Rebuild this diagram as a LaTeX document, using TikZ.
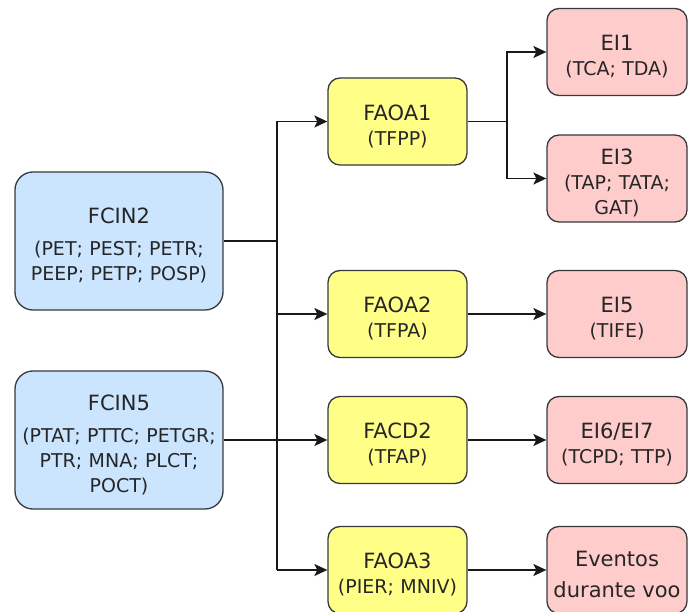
\documentclass[tikz,border=0pt]{standalone}
\usepackage{fontspec}
\setmainfont{DejaVu Sans}
\usepackage{tikz}
\usetikzlibrary{arrows.meta,positioning,calc}
\definecolor{fcinblue}{RGB}{204,229,255}
\definecolor{faoayellow}{RGB}{255,255,136}
\definecolor{eipink}{RGB}{255,204,204}
\definecolor{edgegray}{RGB}{54,57,61}
\newcommand{\titlesize}{\fontsize{21}{25}\selectfont\rule{0pt}{25pt}}
\newcommand{\boxtitle}[1]{{\titlesize #1}\\}
\newcommand{\bigtitle}[1]{{\titlesize #1}\\[7pt]}
\tikzset{
  basebox/.style={
    draw=edgegray,
    line width=1.3pt,
    align=center,
    inner sep=0pt,
    text=black!85,
    font=\fontsize{19}{25}\selectfont
  },
  fcin/.style={
    basebox,
    fill=fcinblue,
    rounded corners=18pt,
    text width=208pt,
    minimum height=138pt
  },
  faoa/.style={
    basebox,
    fill=faoayellow,
    rounded corners=12pt,
    text width=139pt,
    minimum height=87pt
  },
  ei/.style={
    basebox,
    fill=eipink,
    rounded corners=12pt,
    text width=140pt,
    minimum height=87pt
  },
  link/.style={line width=1.5pt,black!90},
  arr/.style={-{Stealth[length=13pt,width=12pt,inset=3pt]},line width=1.5pt,black!90}
}

\begin{document}
\begin{tikzpicture}[x=1pt,y=-1pt]
  \useasboundingbox (0,0) rectangle (689,612);
  % fatores contribuintes
  \node[fcin] (fcin2) at (119,241) {\bigtitle{FCIN2}(PET; PEST; PETR;\\PEEP; PETP; POSP)};
  \node[fcin] (fcin5) at (119,440) {\bigtitle{FCIN5}(PTAT; PTTC; PETGR;\\PTR; MNA; PLCT;\\POCT)};
  % fatores
  \node[faoa] (faoa1) at (397.5,121.5) {\boxtitle{FAOA1}(TFPP)};
  \node[faoa] (faoa2) at (397.5,314) {\boxtitle{FAOA2}(TFPA)};
  \node[faoa] (facd2) at (397.5,440) {\boxtitle{FACD2}(TFAP)};
  \node[faoa] (faoa3) at (397.5,570) {\boxtitle{FAOA3}(PIER; MNIV)};
  % eventos
  \node[ei] (ei1) at (617,52) {\boxtitle{EI1}(TCA; TDA)};
  \node[ei] (ei3) at (617,178.5) {\boxtitle{EI3}(TAP; TATA;\\GAT)};
  \node[ei] (ei5) at (617,314) {\boxtitle{EI5}(TIFE)};
  \node[ei] (ei67) at (617,440) {\boxtitle{EI6/EI7}(TCPD; TTP)};
  \node[ei] (eventos) at (617,570) {{\titlesize Eventos\\[6pt]durante voo}};

  \coordinate (bustop) at (277,121.5);
  \coordinate (busbot) at (277,570);
  \coordinate (fork) at (507,121.5);

  \draw[link] (bustop) -- (busbot);
  \draw[link] (fcin2.east) -- (fcin2.east -| bustop);
  \draw[link] (fcin5.east) -- (fcin5.east -| bustop);
  \draw[arr] (bustop) -- (faoa1.west);
  \draw[arr] (faoa2.west -| bustop) -- (faoa2.west);
  \draw[arr] (facd2.west -| bustop) -- (facd2.west);
  \draw[arr] (busbot) -- (faoa3.west);

  \draw[link] (faoa1.east) -- (fork);
  \draw[arr] (fork) |- (ei1.west);
  \draw[arr] (fork) |- (ei3.west);
  \draw[arr] (faoa2) -- (ei5);
  \draw[arr] (facd2) -- (ei67);
  \draw[arr] (faoa3) -- (eventos);
\end{tikzpicture}
\end{document}
